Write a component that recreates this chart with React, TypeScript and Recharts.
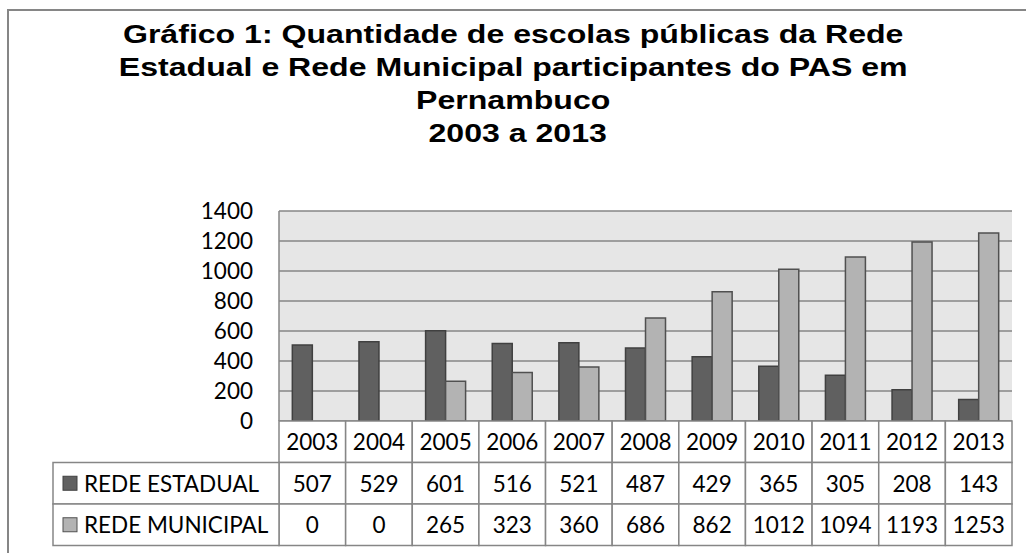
import React from "react";
import { Bar, BarChart, CartesianGrid, XAxis, YAxis } from "recharts";

const years = ["2003", "2004", "2005", "2006", "2007", "2008", "2009", "2010", "2011", "2012", "2013"];
const redeEstadual = [507, 529, 601, 516, 521, 487, 429, 365, 305, 208, 143];
const redeMunicipal = [0, 0, 265, 323, 360, 686, 862, 1012, 1094, 1193, 1253];
const yTicks = [0, 200, 400, 600, 800, 1000, 1200, 1400];
const seriesNames = ["REDE ESTADUAL", "REDE MUNICIPAL"];
const titleLines = [
  "Gráfico 1: Quantidade de escolas públicas da Rede",
  "Estadual e Rede Municipal participantes do PAS em",
  "Pernambuco",
  "\u00a02003 a 2013",
];

const data = years.map((year, i) => ({
  year,
  estadual: redeEstadual[i],
  municipal: redeMunicipal[i],
}));

const DARK = "#606060";
const LIGHT = "#b3b3b3";
const LINE = "#868686";
const FONT = "Lato, 'Open Sans', sans-serif";
const FS = 22.5;

const ROW_H = 41.5;
const LEGEND_COL_W = 226;

function TableTick(props: any) {
  const { x, y, payload, index, width } = props;
  const band = (width || 733) / years.length;
  const left = x - band / 2;
  const rows = [payload.value, String(redeEstadual[index]), String(redeMunicipal[index])];
  return (
    <g>
      {rows.map((txt, r) => (
        <g key={r}>
          <rect x={left} y={y + r * ROW_H} width={band} height={ROW_H} fill="#fff" stroke={LINE} strokeWidth={1.5} />
          <text
            x={x}
            y={y + r * ROW_H + ROW_H / 2}
            textAnchor="middle"
            dominantBaseline="central"
            fontFamily={FONT}
            fontSize={FS}
            fill="#000"
          >
            {txt}
          </text>
        </g>
      ))}
      {index === 0 &&
        seriesNames.map((name, r) => (
          <g key={name}>
            <rect
              x={left - LEGEND_COL_W}
              y={y + (r + 1) * ROW_H}
              width={LEGEND_COL_W}
              height={ROW_H}
              fill="#fff"
              stroke={LINE}
              strokeWidth={1.5}
            />
            <rect
              x={left - LEGEND_COL_W + 10}
              y={y + (r + 1) * ROW_H + ROW_H / 2 - 7}
              width={14}
              height={14}
              fill={r === 0 ? DARK : LIGHT}
              stroke={r === 0 ? "#404040" : "#505050"}
              strokeWidth={1}
            />
            <text
              x={left - LEGEND_COL_W + 31}
              y={y + (r + 1) * ROW_H + ROW_H / 2}
              dominantBaseline="central"
              fontFamily={FONT}
              fontSize={FS}
              fill="#000"
            >
              {name}
            </text>
          </g>
        ))}
    </g>
  );
}

export default function App() {
  return (
    <div
      style={{
        position: "absolute",
        left: 0,
        top: 0,
        width: 1026,
        height: 553,
        overflow: "hidden",
        background: "#fff",
      }}
    >
      <div
        style={{
          position: "absolute",
          left: 7,
          top: 9,
          width: 1100,
          height: 600,
          borderLeft: `2px solid ${LINE}`,
          borderTop: `2px solid ${LINE}`,
        }}
      />
      <div
        style={{
          position: "absolute",
          left: 0,
          top: 18,
          width: 1026,
          textAlign: "center",
          fontFamily: "'Liberation Sans', Arial, sans-serif",
          fontWeight: "bold",
          fontSize: 26.5,
          lineHeight: "33px",
          color: "#000",
          transform: "scaleX(1.21)",
          transformOrigin: "512px 0",
        }}
      >
        {titleLines.map((line) => (
          <div key={line}>{line}</div>
        ))}
      </div>
      <div style={{ position: "absolute", left: 0, top: 0 }}>
        <BarChart
          width={1026}
          height={553}
          data={data}
          margin={{ top: 211, right: 14, bottom: 8, left: 219 }}
          barCategoryGap="20%"
          barGap={0}
        >
          <CartesianGrid vertical={false} fill="#e6e6e6" stroke={LINE} strokeWidth={1.5} />
          <XAxis
            dataKey="year"
            height={124}
            tickSize={0}
            tickMargin={0}
            axisLine={false}
            tick={<TableTick />}
            interval={0}
          />
          <YAxis
            width={60}
            domain={[0, 1400]}
            ticks={yTicks}
            interval={0}
            tickSize={0}
            tickMargin={26}
            axisLine={{ stroke: LINE, strokeWidth: 1.5 }}
            tick={{ fill: "#000", fontSize: FS, fontFamily: FONT }}
          />
          <Bar dataKey="estadual" fill={DARK} stroke="#404040" strokeWidth={1.5} isAnimationActive={false} />
          <Bar dataKey="municipal" fill={LIGHT} stroke="#505050" strokeWidth={1.5} isAnimationActive={false} />
        </BarChart>
      </div>
    </div>
  );
}
